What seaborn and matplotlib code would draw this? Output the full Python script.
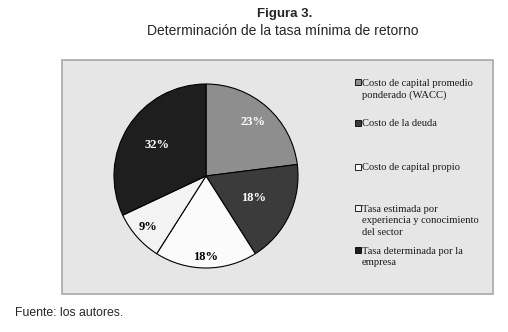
import matplotlib.pyplot as plt
import seaborn as sns
from matplotlib.patches import Rectangle
import numpy as np

sns.set_theme(style="white")
plt.rcParams['font.family'] = ['Liberation Sans', 'DejaVu Sans']

# data
categorias = [
    "Costo de capital promedio\nponderado (WACC)",
    "Costo de la deuda",
    "Costo de capital propio",
    "Tasa estimada por\nexperiencia y conocimiento\ndel sector",
    "Tasa determinada por la\nempresa",
]
valores = [23, 18, 18, 9, 32]
colores = ["#8e8e8e", "#3b3b3b", "#fbfbfb", "#f3f3f3", "#1e1e1e"]
color_texto = ["white", "white", "black", "black", "white"]
dist_etiqueta = [0.78, 0.57, 0.88, 0.84, 0.63]

W, H = 508, 332
fig = plt.figure(figsize=(W / 100, H / 100), dpi=100)
fig.patch.set_facecolor("white")

# chart frame
fig.patches.append(Rectangle((62 / W, 1 - 294 / H), (493 - 62) / W, (294 - 60) / H,
                             transform=fig.transFigure, facecolor="#e6e6e6",
                             edgecolor="#a8a8a8", linewidth=1.2, zorder=-5))

fig.text(285 / W, 1 - 14 / H, "Figura 3.", ha="center", va="center",
         fontsize=9.5, fontweight="bold")
fig.text(283 / W, 1 - 31 / H, "Determinación de la tasa mínima de retorno",
         ha="center", va="center", fontsize=10)
fig.text(15 / W, 1 - 313 / H, "Fuente: los autores.", ha="left", va="center",
         fontsize=8.8)

cx, cy, r = 206, 176, 92
ax = fig.add_axes([(cx - r) / W, (H - cy - r) / H, 2 * r / W, 2 * r / H])
ax.set_zorder(2)
wedges, textos, pcts = ax.pie(valores, colors=colores, startangle=90, counterclock=False,
                              autopct="%d%%",
                              wedgeprops=dict(edgecolor="black", linewidth=0.8),
                              textprops=dict(family="Liberation Serif", fontweight="bold",
                                             fontsize=9))
for w, t, c, d in zip(wedges, pcts, color_texto, dist_etiqueta):
    mid = np.deg2rad((w.theta1 + w.theta2) / 2)
    t.set_position((d * np.cos(mid), d * np.sin(mid)))
    t.set_color(c)
ax.set_xlim(-1.0, 1.0)
ax.set_ylim(-1.0, 1.0)
ax.set_aspect("equal")
ax.axis("off")

# legend drawn by hand so the swatch sits on the first line of each label
leg_y = [82, 123, 167, 208, 250]
for y, lab, col in zip(leg_y, categorias, colores):
    fig.patches.append(Rectangle((355 / W, 1 - (y + 3) / H), 6 / W, 6 / H,
                                 transform=fig.transFigure, facecolor=col,
                                 edgecolor="black", linewidth=0.6, zorder=3))
    fig.text(362 / W, 1 - (y - 3.5) / H, lab, ha="left", va="top",
             family="Liberation Serif", fontsize=7.6, linespacing=1.4,
             color="#1a1a1a")

fig.savefig("out.png", dpi=100)
